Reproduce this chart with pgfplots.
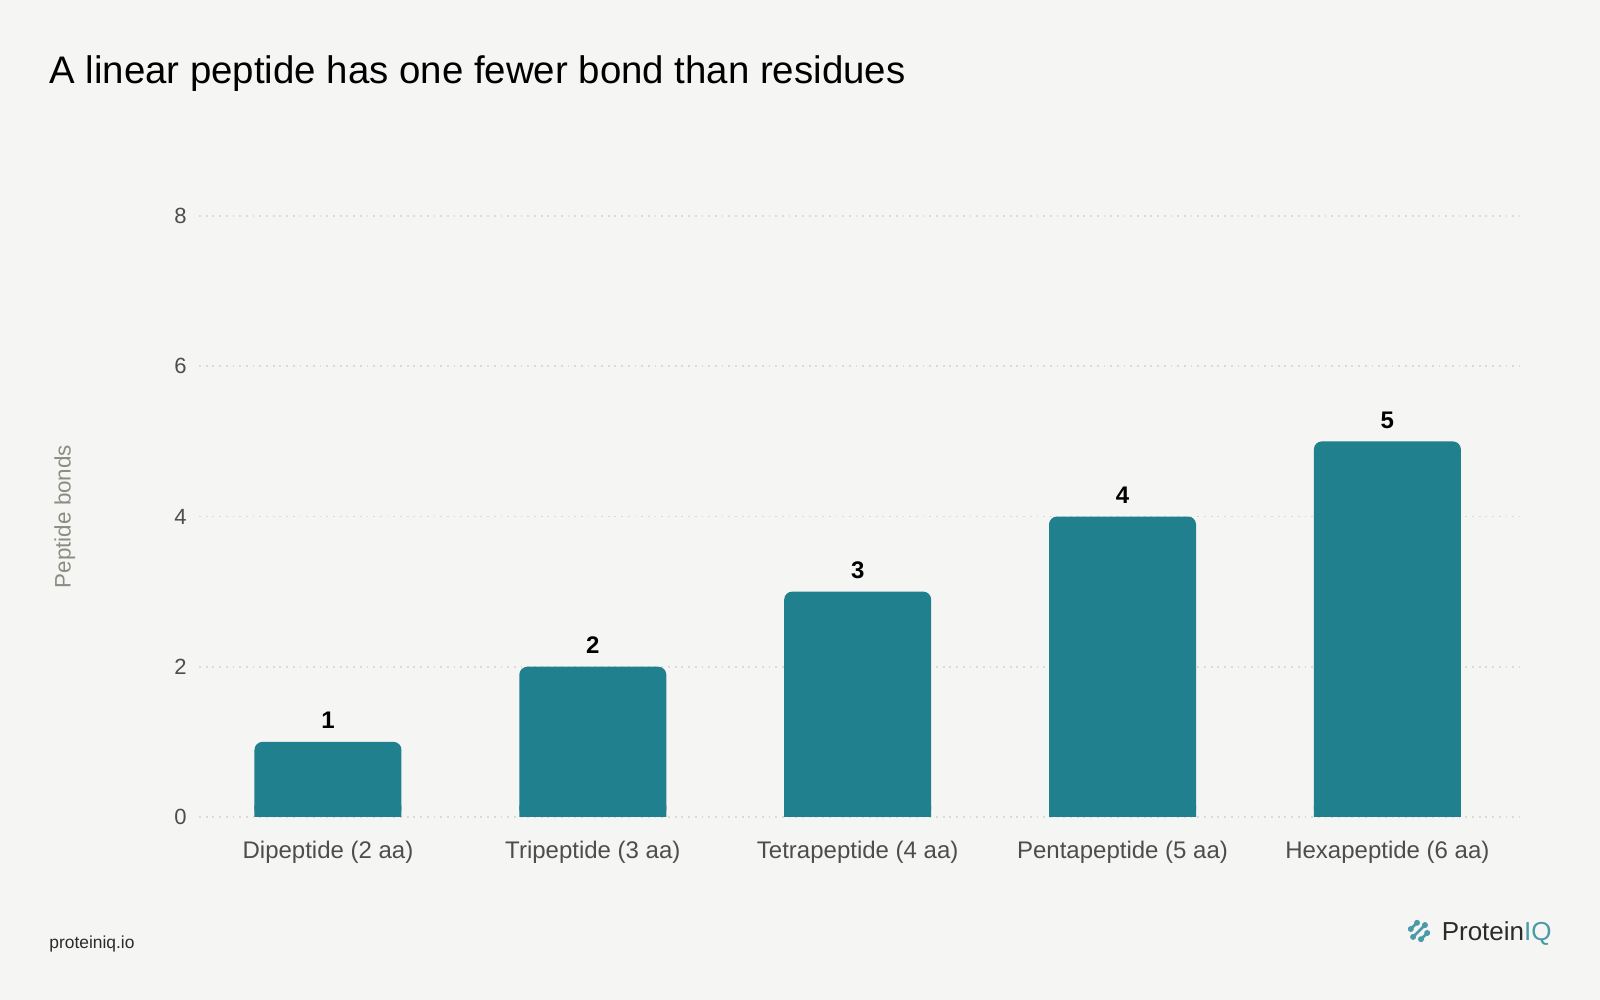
\documentclass[border=0pt]{standalone}
\usepackage{pgfplots}
\usepackage{pgfplotstable}
\pgfplotsset{compat=1.18}
\usepackage{fontspec}
\setmainfont{Liberation Sans}
\definecolor{bg}{HTML}{F5F5F3}
\definecolor{bar}{HTML}{21808D}
\definecolor{ticktxt}{HTML}{4D4D4D}
\definecolor{ylab}{HTML}{8C8C84}
\definecolor{gridc}{HTML}{DADAD6}
\definecolor{logoteal}{HTML}{4A9AA8}
\definecolor{dark}{HTML}{2B2B2B}
\pgfplotstableread{
idx bonds
0 1
1 2
2 3
3 4
4 5
}\bonds
\begin{document}
\begin{tikzpicture}[x=1pt,y=1pt]
\fill[bg] (0,0) rectangle (800,500);
\node[anchor=base west, inner sep=0pt, font=\fontsize{19.2}{22}\selectfont, text=black] at (24.5,458) {A linear peptide has one fewer bond than residues};
\begin{axis}[
  at={(99.5pt,91.5pt)}, anchor=south west,
  scale only axis, width=660pt, height=300.5pt,
  xmin=-0.487, xmax=4.497, ymin=0, ymax=8,
  ytick={0,2,4,6,8},
  xtick={0,1,2,3,4},
  xticklabels={Dipeptide (2 aa),Tripeptide (3 aa),Tetrapeptide (4 aa),Pentapeptide (5 aa),Hexapeptide (6 aa)},
  axis line style={draw=none},
  major tick style={draw=none},
  ymajorgrids,
  major grid style={draw=gridc, line width=0.9pt, dash pattern=on 0.9pt off 2.45pt},
  /pgf/number format/assume math mode=true,
  yticklabel style={font=\fontsize{11}{13}\selectfont, text=ticktxt, anchor=east, inner sep=0pt},
  yticklabel shift=6pt,
  xticklabel style={font=\fontsize{12}{14}\selectfont, text=ticktxt, anchor=base, inner sep=0pt, yshift=-20.8pt},
  ylabel={Peptide bonds},
  every axis y label/.style={at={(axis description cs:-0.1016,0.5)}, anchor=center, rotate=90, font=\fontsize{11.2}{13}\selectfont, text=ylab},
  clip=false,
]
\addplot[ybar, bar shift=0pt, bar width=73.5pt, fill=bar, draw=none, rounded corners=4pt,
  nodes near coords,
  nodes near coords style={anchor=base, inner sep=0pt, yshift=6.5pt, font=\bfseries\fontsize{12}{14}\selectfont, text=black}]
  table[x=idx, y=bonds] {\bonds};
\addplot[ybar, bar shift=0pt, bar width=73.5pt, fill=bar, draw=none,
  y filter/.expression={min(y,0.15)}]
  table[x=idx, y=bonds] {\bonds};
\end{axis}
\node[anchor=base west, inner sep=0pt, font=\fontsize{8.7}{10}\selectfont, text=dark] at (24.5,25.5) {proteiniq.io};
\node[anchor=base east, inner sep=0pt, font=\fontsize{13}{15}\selectfont, text=dark] at (776,29.5) {Protein\textcolor{logoteal}{IQ}};
\begin{scope}[shift={(709.5,34.5)}, logoteal, line width=1.3pt, line cap=round]
  \foreach \k/\l in {-1/2.2,0/4.2,1/2.2} {
    \draw ({\k*3.6*0.707-\l*0.707},{-\k*3.6*0.707-\l*0.707}) -- ({\k*3.6*0.707+\l*0.707},{-\k*3.6*0.707+\l*0.707});
    \fill ({\k*3.6*0.707+\l*0.707},{-\k*3.6*0.707+\l*0.707}) circle (1.5);
    \fill ({\k*3.6*0.707-\l*0.707},{-\k*3.6*0.707-\l*0.707}) circle (1.5);
  }
\end{scope}
\pgfresetboundingbox
\path (0,0) rectangle (800,500);
\end{tikzpicture}
\end{document}
